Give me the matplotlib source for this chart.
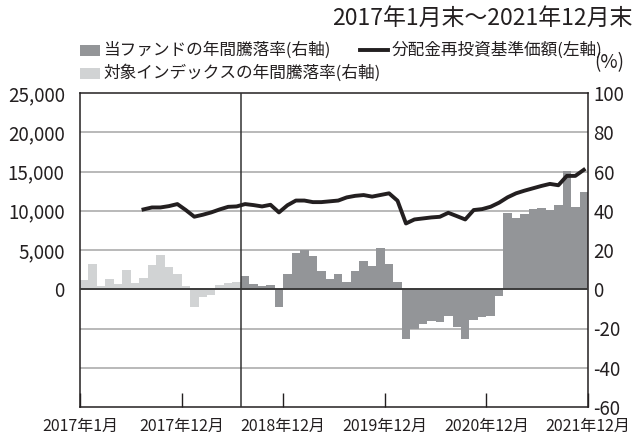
import numpy as np
import matplotlib
matplotlib.use("Agg")
import matplotlib.pyplot as plt
from matplotlib.patches import Rectangle
from matplotlib.lines import Line2D

plt.rcParams['font.family'] = ['Noto Sans CJK JP', 'DejaVu Sans']

# ---- data ----
n_months = 60  # 2017/1 .. 2021/12
index_returns = [4.6, 13.0, 1.5, 5.4, 2.5, 9.7, 3.4, 5.9, 12.2, 17.3, 11.4, 7.6,
                 1.5, -9.0, -4.2, -3.1, 2.0, 3.2, 3.7]          # 2017/1 - 2018/7
fund_returns = [6.6, 2.5, 1.5, 2.0, -9.0,                        # 2018/8 - 2018/12
                7.6, 18.5, 20.2, 16.8, 9.2, 5.1, 7.6, 3.6, 9.2, 14.2, 11.9, 20.8,   # 2019
                12.7, 3.6, -25.4, -20.0, -17.5, -16.1, -16.6, -13.6, -19.2, -25.4, -15.8, -14.1,  # 2020
                -13.6, -3.6, 38.8, 36.3, 38.5, 40.7, 41.5, 40.2, 42.7, 60.5, 41.9, 49.8]  # 2020/11 - 2021/12
nav_start = 7  # 2017/8
nav = [10170, 10420, 10420, 10590, 10850,                                    # 2017/8-12
       10085, 9240, 9490, 9790, 10170, 10500, 10550, 10850, 10720, 10550, 10760, 9790,   # 2018
       10700, 11300, 11300, 11100, 11100, 11200, 11300, 11700, 11900, 12000, 11800, 12010,  # 2019
       12220, 11280, 8380, 8890, 9020, 9150, 9230, 9740, 9320, 8890, 10090, 10210,  # 2020
       10510, 11030, 11710, 12220, 12560, 12860, 13160, 13420, 13250, 14440, 14440, 15210]  # 2021
xtick_labels = ['2017年1月', '2017年12月', '2018年12月', '2019年12月', '2020年12月', '2021年12月']

# ---- figure ----
fig = plt.figure(figsize=(6.38, 4.41), dpi=100)
L, R, T, B = 80, 588, 93, 407
W, H = 638, 441
ax = fig.add_axes([L / W, 1 - B / H, (R - L) / W, (B - T) / H])
ax2 = ax.twinx()

dark = '#939598'
light = '#d1d3d4'
grid_c = '#b3b3b3'
ink = '#231f20'

x_idx = np.arange(len(index_returns))
ax.bar(x_idx, index_returns, width=1.0, color=light, linewidth=0, zorder=2)
x_f = np.arange(len(index_returns), len(index_returns) + len(fund_returns))
ax.bar(x_f, fund_returns, width=1.0, color=dark, linewidth=0, zorder=2)

ax.set_xlim(-0.5, n_months - 0.5)
ax.set_ylim(-60, 100)
ax.set_yticks(np.arange(-60, 101, 20))
ax.set_yticklabels([str(v) for v in range(-60, 101, 20)])
for v in [-40, -20, 20, 40, 60, 80]:
    ax.axhline(v, color=grid_c, lw=1.3, zorder=1)
ax.axhline(0, color='#3a3a3a', lw=1.4, zorder=3)
ax.axvline(len(index_returns) - 0.5, color='#333333', lw=1.1, zorder=3)

ax.yaxis.tick_right()
ax.yaxis.set_label_position('right')
ax.tick_params(axis='y', which='both', left=False, right=True, labelleft=False, labelright=True,
               length=0, pad=4, labelsize=13.5, colors=ink)
ax.set_xticks([-0.5, 11.5, 23.5, 35.5, 47.5, 59.5])
ax.set_xticklabels(xtick_labels)
ax.tick_params(axis='x', direction='in', length=10, width=1, pad=8, labelsize=11.5, colors=ink)
for s in ax.spines.values():
    s.set_color(ink)
    s.set_linewidth(1.1)

ax2.set_ylim(-15000, 25000)
ax2.set_yticks(np.arange(0, 25001, 5000))
ax2.set_yticklabels([f'{v:,}' for v in range(0, 25001, 5000)])
ax2.tick_params(axis='y', left=True, right=False, labelleft=True, labelright=False,
                length=0, pad=11, labelsize=13.5, colors=ink)
for s in ax2.spines.values():
    s.set_visible(False)
x_nav = np.arange(nav_start, nav_start + len(nav))
ax2.plot(x_nav, nav, color=ink, lw=2.8, zorder=5)

# ---- legend & title (figure pixel coords) ----
def fx(px):
    return px / W

def fy(py):
    return 1 - py / H

fig.text(fx(632), fy(18), '2017年1月末～2021年12月末', ha='right', va='center', fontsize=16.5, color=ink)
fig.add_artist(Rectangle((fx(80), fy(56)), fx(20), 11 / H, transform=fig.transFigure, color=dark, lw=0))
fig.text(fx(103), fy(50), '当ファンドの年間騰落率(右軸)', ha='left', va='center', fontsize=12, color=ink)
fig.add_artist(Rectangle((fx(80), fy(79)), fx(20), 11 / H, transform=fig.transFigure, color=light, lw=0))
fig.text(fx(103), fy(73), '対象インデックスの年間騰落率(右軸)', ha='left', va='center', fontsize=12, color=ink)
fig.add_artist(Line2D([fx(360), fx(388)], [fy(50), fy(50)], transform=fig.transFigure, color=ink, lw=2.8))
fig.text(fx(392), fy(50), '分配金再投資基準価額(左軸)', ha='left', va='center', fontsize=12, color=ink)
fig.text(fx(609), fy(63), '(%)', ha='center', va='center', fontsize=13.5, color=ink)

fig.savefig('out.png', dpi=100)
